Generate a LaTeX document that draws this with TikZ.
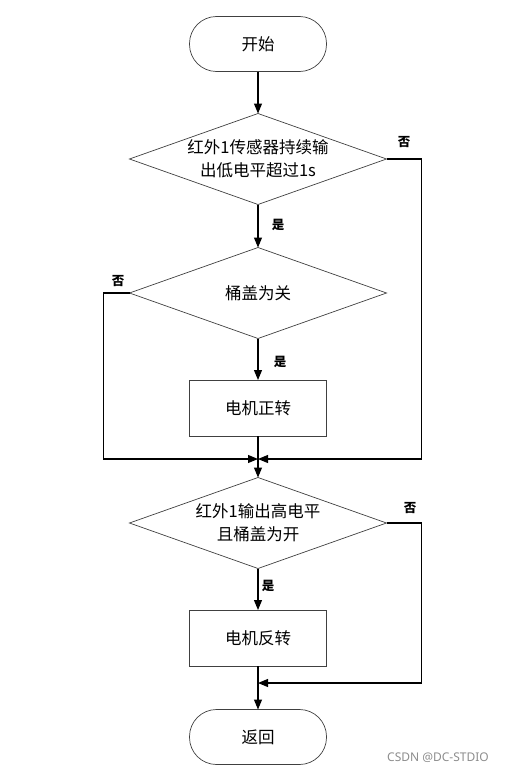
\documentclass[tikz,border=0pt]{standalone}
\usepackage{fontspec}
\newfontfamily\cjk{Noto Sans CJK SC}
\newfontfamily\wm{Noto Sans}
\usetikzlibrary{shapes.geometric,arrows.meta}
\begin{document}
\begin{tikzpicture}[x=1pt,y=-1pt,
  shapeline/.style={draw=black!75,line width=0.7pt},
  term/.style={shapeline,rectangle,rounded corners=27pt,minimum width=137pt,minimum height=55pt,inner sep=0pt,outer sep=0pt,font=\cjk\fontsize{16.5}{20}\selectfont},
  proc/.style={shapeline,rectangle,minimum width=137pt,minimum height=56pt,inner sep=0pt,outer sep=0pt,font=\cjk\fontsize{16.5}{20}\selectfont},
  dec/.style={shapeline,diamond,aspect=2.82,minimum width=257pt,minimum height=91pt,inner xsep=-20pt,inner ysep=-6pt,outer sep=0pt,align=center,font=\cjk\fontsize{16.5}{23}\selectfont},
  conn/.style={line width=1.1pt,black},
  arr/.style={conn,-{Triangle[length=10pt,width=8pt]}},
  lab/.style={font=\cjk\bfseries\fontsize{12.5}{14}\selectfont,inner sep=0pt},
]
\useasboundingbox (0,0) rectangle (504,779);
\node[term] (start) at (258,44) {开始};
\node[dec] (d1) at (258,159) {红外1传感器持续输\\出低电平超过1s};
\node[dec] (d2) at (258,293) {桶盖为关};
\node[proc] (p1) at (258,408) {电机正转};
\coordinate (j1) at (258,459);
\node[dec] (d3) at (258,523) {红外1输出高电平\\且桶盖为开};
\node[proc] (p2) at (258,638) {电机反转};
\coordinate (j2) at (258,683);
\node[term] (end) at (258,737) {返回};

\draw[arr] (start) -- (d1);
\draw[arr] (d1) -- (d2);
\draw[arr] (d2) -- (p1);
\draw[conn] (p1) -- (j1);
\draw[arr] (d1.east) -- ++(35,0) |- (j1);
\draw[arr] (d2.west) -- ++(-26,0) |- (j1);
\draw[arr] (j1) -- (d3);
\draw[arr] (d3) -- (p2);
\draw[arr] (p2) -- (end);
\draw[arr] (d3.east) -- ++(35,0) |- (j2);

\node[lab] (y1) at (278,225) {是};
\node[lab] (y2) at (280,362) {是};
\node[lab] (y3) at (268,586) {是};
\node[lab] (n1) at (404,142) {否};
\node[lab] (n2) at (118,281) {否};
\node[lab] (n3) at (410,508) {否};

\node[font=\wm\fontsize{12}{14}\selectfont,text=black!45,inner sep=0pt] (wmk) at (438,758) {CSDN @DC-STDIO};
\end{tikzpicture}
\end{document}
